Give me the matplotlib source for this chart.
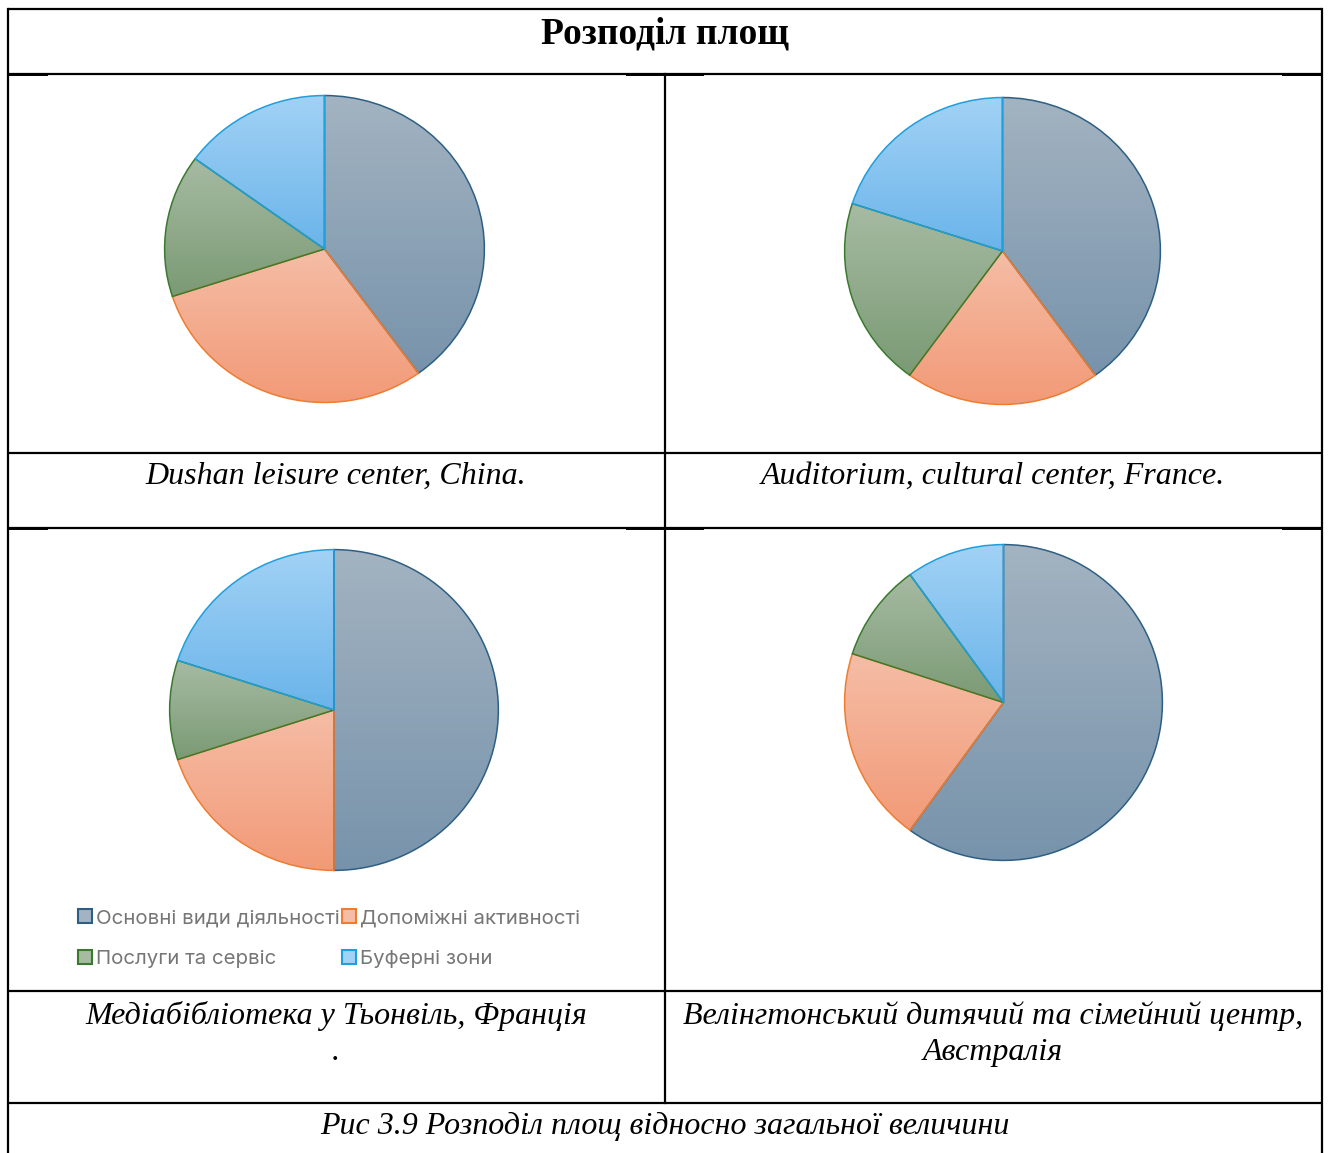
import numpy as np
import matplotlib
matplotlib.use("Agg")
import matplotlib.pyplot as plt
from matplotlib.colors import LinearSegmentedColormap
from matplotlib.patches import Patch

# data
categories = ["Основні види діяльності", "Допоміжні активності", "Послуги та сервіс", "Буферні зони"]
dushan = [40, 30, 15, 15]
auditorium = [40, 20, 20, 20]
mediateka = [50, 20, 10, 20]
wellington = [60, 20, 10, 10]

captions = ["Dushan leisure center, China.",
            "Auditorium, cultural center, France.",
            "Медіабібліотека у Тьонвіль, Франція\n.",
            "Велінгтонський дитячий та сімейний центр,\nАвстралія"]
title = "Розподіл площ"
footer = "Рис 3.9 Розподіл площ відносно загальної величини"

# gradient colours per slice: (top, bottom, edge)
shades = [("#a3b3c1", "#7793ab", "#2d5f84"),
          ("#f5bda6", "#f29a77", "#ed7d31"),
          ("#a7bba3", "#7a9a74", "#3a7a2e"),
          ("#a2d2f5", "#6ab4ea", "#1f9fdc")]

W, H = 1328, 1153
fig = plt.figure(figsize=(W / 100, H / 100), dpi=100)
bg = fig.add_axes([0, 0, 1, 1])
bg.set_xlim(0, W)
bg.set_ylim(H, 0)
bg.axis("off")

# table grid
lw = 1.6
for y in [9, 74, 453, 528, 991, 1103]:
    bg.plot([8, 1322], [y, y], color="black", lw=lw, solid_capstyle="butt")
bg.plot([8, 8], [9, H], color="black", lw=lw)
bg.plot([1322, 1322], [9, H], color="black", lw=lw)
bg.plot([665, 665], [74, 1103], color="black", lw=lw)
# small doubled segments from the original rendering
for y in [75, 529]:
    for x0, x1 in [(8, 48), (626, 704), (1282, 1322)]:
        bg.plot([x0, x1], [y, y], color="black", lw=1.4, solid_capstyle="butt")

serif = "Liberation Serif"
cap = dict(ha="center", va="center", fontsize=23, style="italic", family=serif)
bg.text(665, 34, title, ha="center", va="center", fontsize=27, fontweight="bold", family=serif)
bg.text(336, 476, captions[0], **cap)
bg.text(993, 476, captions[1], **cap)
bg.text(336, 1034, captions[2], linespacing=1.3, **cap)
bg.text(993, 1034, captions[3], linespacing=1.3, **cap)
bg.text(665, 1126, footer, **cap)


def draw_pie(values, box):
    x0, y0, x1, y1 = box
    ax = fig.add_axes([x0 / W, 1 - y1 / H, (x1 - x0) / W, (y1 - y0) / H])
    wedges, _ = ax.pie(values, startangle=90, counterclock=False, radius=1,
                       wedgeprops=dict(linewidth=1.1))
    for w, (top, bot, edge) in zip(wedges, shades):
        ext = w.get_path().get_extents()
        cm = LinearSegmentedColormap.from_list("g", [top, bot])
        im = ax.imshow(np.linspace(0, 1, 256).reshape(-1, 1), cmap=cm, origin="upper",
                       extent=(ext.x0, ext.x1, ext.y0, ext.y1), aspect="auto", zorder=1)
        im.set_clip_path(w)
        w.set_facecolor("none")
        w.set_edgecolor(edge)
        w.set_zorder(2)
    ax.set_xlim(-1.01, 1.01)
    ax.set_ylim(-1.01, 1.01)
    ax.set_aspect("auto")
    ax.axis("off")
    return ax


draw_pie(dushan, (163, 94, 486, 404))
draw_pie(auditorium, (843, 96, 1162, 406))
draw_pie(mediateka, (168, 548, 500, 872))
draw_pie(wellington, (843, 543, 1164, 862))

# legend is filled column by column, so reorder to get row order
order = [0, 2, 1, 3]
handles = [Patch(facecolor=shades[i][0], edgecolor=shades[i][2], linewidth=1.5) for i in order]
labels = [categories[i] for i in order]
leg = bg.legend(handles, labels, loc="upper left", bbox_to_anchor=(78, 909),
                bbox_transform=bg.transData, ncol=2, frameon=False,
                prop={"family": "Inter", "size": 14.7}, labelcolor="#767676",
                handlelength=0.68, handleheight=0.68, handletextpad=0.2,
                columnspacing=0.1, labelspacing=1.1, borderpad=0, borderaxespad=0)

fig.savefig("out.png", dpi=100)
